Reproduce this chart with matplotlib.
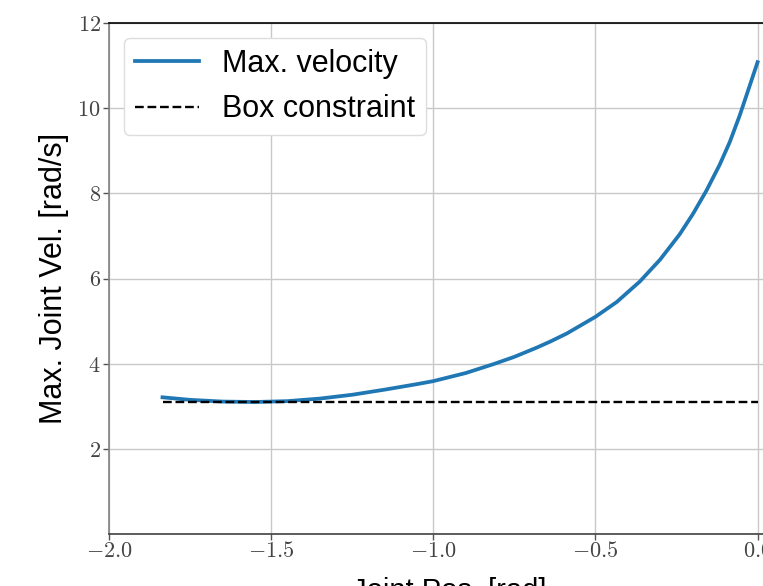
import matplotlib
matplotlib.use("Agg")
import matplotlib.pyplot as plt

# --- datos ---
joint_pos = [-1.835, -1.75, -1.65, -1.55, -1.45, -1.35, -1.25, -1.15, -1.05, -1.0,
             -0.9, -0.814, -0.75, -0.68, -0.639, -0.588, -0.5, -0.434, -0.363,
             -0.301, -0.24, -0.199, -0.158, -0.117, -0.086, -0.055, -0.029, 0.0]
max_vel = [3.21, 3.15, 3.11, 3.10, 3.12, 3.18, 3.27, 3.39, 3.52, 3.59,
           3.78, 3.99, 4.16, 4.38, 4.52, 4.71, 5.10, 5.45, 5.93,
           6.44, 7.04, 7.52, 8.06, 8.67, 9.20, 9.83, 10.42, 11.08]
box_x = [-1.835, 0.0]
box_limit = [3.09, 3.09]

xticks = [-2.0, -1.5, -1.0, -0.5, 0.0]
yticks = [2, 4, 6, 8, 10, 12]

plt.rcParams['mathtext.fontset'] = 'cm'
plt.rcParams['font.family'] = ['Liberation Sans', 'DejaVu Sans']

fig = plt.figure(figsize=(7.63, 5.86), dpi=100)
ax = fig.add_axes([109/763, 52/586, 681/763, 511/586])

ax.plot(joint_pos, max_vel, color='#1f77b4', lw=2.7, label='Max. velocity', zorder=3)
ax.plot(box_x, box_limit, color='black', ls='--', lw=1.7, label='Box constraint', zorder=3)

ax.set_xlim(-2.0, 0.1)
ax.set_ylim(0, 12)
ax.set_xticks(xticks)
ax.set_yticks(yticks)
ax.set_xticklabels([f'${v:.1f}$' for v in xticks])
ax.set_yticklabels([f'${v}$' for v in yticks])
ax.tick_params(axis='both', labelsize=16, labelcolor='#444444', color='#555555',
               length=4, width=1)
ax.tick_params(axis='y', pad=2)
ax.tick_params(axis='x', pad=1)

ax.grid(True, color='#c8c8c8', lw=1)
ax.set_axisbelow(True)

ax.spines['left'].set_color('#808080')
ax.spines['bottom'].set_color('#404040')
ax.spines['top'].set_color('black')
for s in ax.spines.values():
    s.set_linewidth(1.2)

ax.set_xlabel('Joint Pos. [rad]', fontsize=21, labelpad=11)
ax.set_ylabel('Max. Joint Vel. [rad/s]', fontsize=22, labelpad=6)

ax.legend(loc='upper left', fontsize=22, handlelength=2.1, framealpha=1,
          edgecolor='#dddddd', borderaxespad=0.5, handletextpad=0.75,
          labelspacing=0.5, borderpad=0.35)

fig.savefig('out.png', dpi=100)
